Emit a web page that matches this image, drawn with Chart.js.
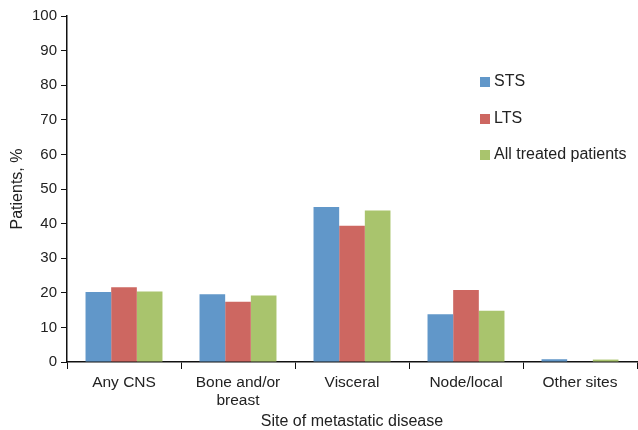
<!DOCTYPE html>
<html>
<head>
<meta charset="utf-8">
<script src="https://cdn.jsdelivr.net/npm/chart.js@4"></script>
<style>
  body { margin: 0; background: #fff; }
  #wrap { position: relative; width: 638px; height: 430px; }
  #legend { position: absolute; left: 480px; top: 72px; font: 16px/18px "Liberation Sans", Arial, sans-serif; color: #222; }
  #legend div { height: 36.6px; display: flex; align-items: flex-start; }
  #legend span.box { display: inline-block; width: 10px; height: 10px; margin: 5px 4px 0 0; }
</style>
</head>
<body>
<div id="wrap">
  <canvas id="chart" width="638" height="430"></canvas>
  <div id="legend"></div>
</div>
<script>
// Site of metastatic disease - patients %
const categories = ["Any CNS", ["Bone and/or", "breast"], "Visceral", "Node/local", "Other sites"];
const stsValues = [20.2, 19.6, 44.8, 13.8, 0.8];
const ltsValues = [21.6, 17.4, 39.4, 20.8, 0];
const allValues = [20.4, 19.2, 43.8, 14.8, 0.7];
const yTicks = [0, 10, 20, 30, 40, 50, 60, 70, 80, 90, 100];

const family = "'Liberation Sans', Arial, sans-serif";
const textColor = "#222";

const datasets = [
  { label: "STS", data: stsValues, backgroundColor: "#6197c9" },
  { label: "LTS", data: ltsValues, backgroundColor: "#cd6761" },
  { label: "All treated patients", data: allValues, backgroundColor: "#a9c46d" },
].map((d) => ({ ...d, categoryPercentage: 0.675, barPercentage: 1, borderWidth: 0 }));

new Chart(document.getElementById("chart"), {
  type: "bar",
  data: { labels: categories, datasets },
  options: {
    responsive: false,
    animation: false,
    layout: { padding: { top: 16, right: 1, left: 0, bottom: 0 } },
    plugins: { legend: { display: false }, tooltip: { enabled: false } },
    scales: {
      x: {
        grid: { drawOnChartArea: false, color: "#111", tickLength: 7, offset: true },
        border: { color: "#111", width: 1.5 },
        ticks: { color: textColor, font: { family, size: 15.5, lineHeight: 1.2 }, padding: 4, maxRotation: 0 },
        title: { display: true, text: "Site of metastatic disease", color: textColor,
                 font: { family, size: 16, lineHeight: 1 }, padding: { top: 0, bottom: 0 } },
        afterFit: (s) => { s.height = 68; },
      },
      y: {
        min: 0,
        max: 100,
        afterBuildTicks: (s) => { s.ticks = yTicks.map((v) => ({ value: v })); },
        grid: { drawOnChartArea: false, color: "#111", tickLength: 6 },
        border: { color: "#111", width: 1.5 },
        ticks: { color: textColor, font: { family, size: 15 }, padding: 4 },
        title: { display: true, text: "Patients, %", color: textColor,
                 font: { family, size: 16 }, padding: { top: 8, bottom: 0 } },
        afterFit: (s) => { s.width = 67; },
      },
    },
  },
});

// Legend built from the datasets
const legend = document.getElementById("legend");
datasets.forEach((d) => {
  const row = document.createElement("div");
  row.innerHTML = `<span class="box" style="background:${d.backgroundColor}"></span>${d.label}`;
  legend.appendChild(row);
});
</script>
</body>
</html>
